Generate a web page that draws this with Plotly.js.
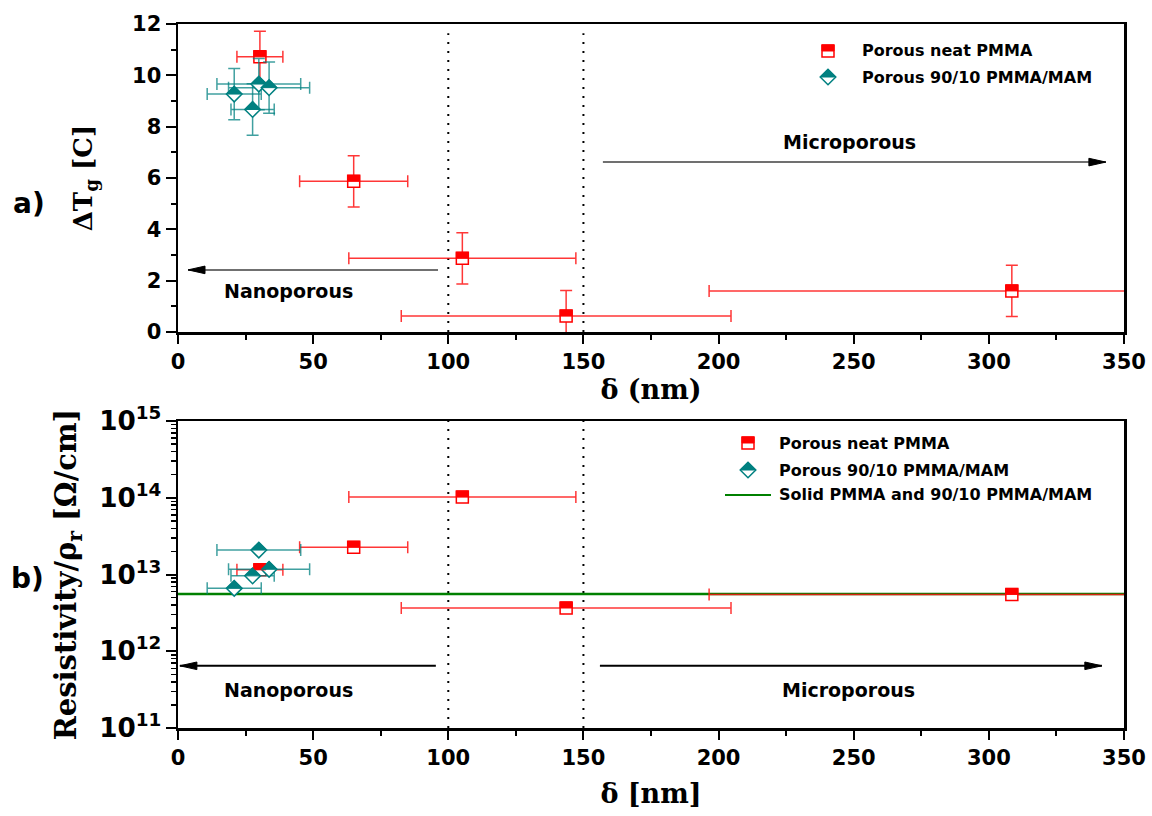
<!DOCTYPE html>
<html><head><meta charset="utf-8">
<script src="https://cdn.plot.ly/plotly-3.0.1.min.js"></script>
<style>html,body{margin:0;padding:0;background:#fff}</style>
</head><body><div id="chart" style="width:1152px;height:816px"></div>
<script>
// ---- data ----
const neatX = [30.3, 65, 105.2, 143.6, 308.5];
const neatXErr = [8.5, 20, 42, 61, 112];
const neatTg = [10.72, 5.87, 2.87, 0.62, 1.6];
const neatTgErr = [1, 1, 1, 1, 1];
const neatRho = [1.15e13, 2.26e13, 1.02e14, 3.66e12, 5.5e12];

const mamX = [29.9, 33.7, 20.8, 27.6];
const mamXErr = [15.5, 15, 10, 8];
const mamTg = [9.66, 9.52, 9.27, 8.67];
const mamTgErr = [1, 1, 1, 1];
const mamRho = [2.08e13, 1.17e13, 6.6e12, 9.6e12];

const solidRho = 5.57e12;
const boundaries = [100, 150];
const xRange = [0, 350];

const seriesNames = ['Porous neat PMMA', 'Porous 90/10 PMMA/MAM', 'Solid PMMA and 90/10 PMMA/MAM'];
const regionNames = ['Nanoporous', 'Microporous'];

// ---- style / geometry ----
const RED = '#ff0000', RED_ERR = 'rgba(255,20,20,0.85)';
const TEAL = '#008080', TEAL_ERR = 'rgba(0,128,128,0.75)';
const GREEN = '#008000';
const PL = 178, PR = 1124, PT = 24, PB = 728, W = 1152, H = 816;
const px2x = p => (p - PL) / (PR - PL);
const px2y = p => (PB - p) / (PB - PT);
const SANS = '"DejaVu Sans", Verdana, sans-serif';
const TICKFONT = {family: SANS, size: 21, color: '#000', weight: 'bold'};
const LABFONT = {family: SANS, size: 16, color: '#000', weight: 'bold'};
const SERIF = '"DejaVu Serif", serif';
const XTITLEFONT = {family: SERIF, size: 27, color: '#000', weight: 'bold'};

const SQ = 6, DM = 7.8;
const sqFull = `M${-SQ},${-SQ} L${SQ},${-SQ} L${SQ},${SQ} L${-SQ},${SQ} Z`;
const sqHalf = `M${-SQ},0 L${SQ},0 L${SQ},${SQ} L${-SQ},${SQ} Z`;
const dmFull = `M${-DM},0 L0,${-DM} L${DM},0 L0,${DM} Z`;
const dmHalf = `M${-DM},0 L${DM},0 L0,${DM} Z`;

function errBar(arr, c) { return {type: 'data', array: arr, color: c, thickness: 1.5, width: 6}; }

const traces = [
  {x: neatX, y: neatTg, xaxis: 'x', yaxis: 'y', mode: 'markers', name: seriesNames[0], showlegend: false,
   marker: {symbol: 'square', size: 12, color: '#fff', line: {color: RED, width: 1.5}},
   error_x: errBar(neatXErr, RED_ERR), error_y: errBar(neatTgErr, RED_ERR)},
  {x: mamX, y: mamTg, xaxis: 'x', yaxis: 'y', mode: 'markers', name: seriesNames[1], showlegend: false,
   marker: {symbol: 'diamond', size: 12, color: '#fff', line: {color: TEAL, width: 1.5}},
   error_x: errBar(mamXErr, TEAL_ERR), error_y: errBar(mamTgErr, TEAL_ERR)},
  {x: xRange, y: [solidRho, solidRho], xaxis: 'x2', yaxis: 'y2', mode: 'lines', name: seriesNames[2], showlegend: false,
   line: {color: GREEN, width: 2.5}},
  {x: neatX, y: neatRho, xaxis: 'x2', yaxis: 'y2', mode: 'markers', name: seriesNames[0], showlegend: false,
   marker: {symbol: 'square', size: 12, color: '#fff', line: {color: RED, width: 1.5}},
   error_x: errBar(neatXErr, RED_ERR)},
  {x: mamX, y: mamRho, xaxis: 'x2', yaxis: 'y2', mode: 'markers', name: seriesNames[1], showlegend: false,
   marker: {symbol: 'diamond', size: 12, color: '#fff', line: {color: TEAL, width: 1.5}},
   error_x: errBar(mamXErr, TEAL_ERR)}
];

const shapes = [];
const annotations = [];

// half-filled markers anchored at data points
function halfFill(xs, ys, xa, ya, path, color) {
  xs.forEach((xv, i) => shapes.push({type: 'path', xref: xa, yref: ya, xsizemode: 'pixel', ysizemode: 'pixel',
    xanchor: xv, yanchor: ys[i], path: path, fillcolor: color, line: {color: color, width: 1}, layer: 'above'}));
}
halfFill(neatX, neatTg, 'x', 'y', sqHalf, RED);
halfFill(mamX, mamTg, 'x', 'y', dmHalf, TEAL);
halfFill(neatX, neatRho, 'x2', 'y2', sqHalf, RED);
halfFill(mamX, mamRho, 'x2', 'y2', dmHalf, TEAL);

// region boundaries (dotted)
boundaries.forEach(b => {
  shapes.push({type: 'line', xref: 'x', yref: 'y domain', x0: b, x1: b, y0: 0, y1: 0.97, line: {color: '#000', width: 2, dash: '2px,7px'}, layer: 'below'});
  shapes.push({type: 'line', xref: 'x2', yref: 'y2 domain', x0: b, x1: b, y0: 0, y1: 1, line: {color: '#000', width: 2, dash: '2px,7px'}, layer: 'below'});
});

// arrows
function arrow(xa, ya, xFrom, xTip, yv, color) {
  shapes.push({type: 'line', xref: xa, yref: ya, x0: xFrom, x1: xTip, y0: yv, y1: yv, line: {color: color, width: 2}});
  const s = xTip > xFrom ? 1 : -1;
  shapes.push({type: 'path', xref: xa, yref: ya, xsizemode: 'pixel', ysizemode: 'pixel', xanchor: xTip, yanchor: yv,
    path: `M0,0 L${-17 * s},3.8 L${-17 * s},-3.8 Z`, fillcolor: '#000', line: {color: '#000', width: 1}});
}
arrow('x', 'y', 96.2, 3.7, 2.42, '#707070');
arrow('x', 'y', 157.2, 343.3, 6.62, '#707070');
arrow('x2', 'y2', 95.4, 0.7, 6.46e11, '#000');
arrow('x2', 'y2', 156.1, 341.8, 6.46e11, '#000');

function label(xa, ya, xv, yv, text) {
  annotations.push({xref: xa, yref: ya, x: xv, y: yv, xanchor: 'center', yanchor: 'middle', text: text, showarrow: false, font: {family: SANS, size: 19, color: '#000', weight: 'bold'}});
}
label('x', 'y', 41, 1.6, regionNames[0]);
label('x', 'y', 248.6, 7.4, regionNames[1]);
label('x2', 'y2', 41, 11.5, regionNames[0]);
label('x2', 'y2', 248.2, 11.5, regionNames[1]);

// panel letters
annotations.push({xref: 'paper', yref: 'paper', x: px2x(29), y: px2y(203), xanchor: 'center', yanchor: 'middle', text: 'a)', showarrow: false, font: {family: SANS, size: 28, color: '#000', weight: 'bold'}});
annotations.push({xref: 'paper', yref: 'paper', x: px2x(27), y: px2y(578), xanchor: 'center', yanchor: 'middle', text: 'b)', showarrow: false, font: {family: SANS, size: 28, color: '#000', weight: 'bold'}});

// custom legends
function legendItem(mx, my, tx, kind, text) {
  const base = {type: 'path', xref: 'paper', yref: 'paper', xsizemode: 'pixel', ysizemode: 'pixel', xanchor: px2x(mx), yanchor: px2y(my), layer: 'above'};
  if (kind === 'square') {
    shapes.push(Object.assign({}, base, {path: sqFull, fillcolor: '#fff', line: {color: RED, width: 1.5}}));
    shapes.push(Object.assign({}, base, {path: sqHalf, fillcolor: RED, line: {color: RED, width: 1}}));
  } else if (kind === 'diamond') {
    shapes.push(Object.assign({}, base, {path: dmFull, fillcolor: '#fff', line: {color: TEAL, width: 1.5}}));
    shapes.push(Object.assign({}, base, {path: dmHalf, fillcolor: TEAL, line: {color: TEAL, width: 1}}));
  } else {
    shapes.push({type: 'line', xref: 'paper', yref: 'paper', x0: px2x(mx - 23), x1: px2x(mx + 23), y0: px2y(my), y1: px2y(my), line: {color: GREEN, width: 2}});
  }
  annotations.push({xref: 'paper', yref: 'paper', x: px2x(tx), y: px2y(my), xanchor: 'left', yanchor: 'middle', text: text, showarrow: false, font: LABFONT});
}
legendItem(828, 51, 860, 'square', seriesNames[0]);
legendItem(828, 77, 860, 'diamond', seriesNames[1]);
legendItem(748, 443, 777, 'square', seriesNames[0]);
legendItem(748, 470, 777, 'diamond', seriesNames[1]);
legendItem(748, 495, 777, 'line', seriesNames[2]);

const xBase = {range: xRange, dtick: 50, tick0: 0, ticks: 'outside', ticklen: 9, tickwidth: 2, tickcolor: '#000',
  showline: true, linewidth: 2.5, linecolor: '#000', mirror: true, showgrid: false, zeroline: false,
  minor: {dtick: 25, ticks: 'outside', ticklen: 5, tickwidth: 2, tickcolor: '#000'}, tickfont: TICKFONT};

const layout = {
  width: W, height: H, paper_bgcolor: '#fff', plot_bgcolor: '#fff', showlegend: false,
  margin: {l: PL, r: W - PR, t: PT, b: H - PB},
  xaxis: Object.assign({}, xBase, {domain: [0, 1], anchor: 'y', title: {text: 'δ (nm)', font: XTITLEFONT, standoff: 2}}),
  yaxis: {domain: [px2y(332), 1], anchor: 'x', range: [0, 12], dtick: 2, ticks: 'outside', ticklen: 10, tickwidth: 2, tickcolor: '#000',
    showline: true, linewidth: 2.5, linecolor: '#000', mirror: true, showgrid: false, zeroline: false,
    minor: {dtick: 1, ticks: 'outside', ticklen: 5, tickwidth: 2, tickcolor: '#000'}, tickfont: TICKFONT,
    title: {text: 'ΔT<sub>g</sub> [C]', font: {family: SERIF, size: 26, color: '#000', weight: 'bold'}, standoff: 32}},
  xaxis2: Object.assign({}, xBase, {domain: [0, 1], anchor: 'y2', title: {text: 'δ [nm]', font: XTITLEFONT, standoff: 16}}),
  yaxis2: {domain: [0, px2y(421)], anchor: 'x2', type: 'log', range: [11, 15], dtick: 1, exponentformat: 'power',
    ticks: 'outside', ticklen: 10, tickwidth: 2, tickcolor: '#000',
    showline: true, linewidth: 2.5, linecolor: '#000', mirror: true, showgrid: false, zeroline: false,
    minor: {ticks: 'outside', ticklen: 5, tickwidth: 1.5, tickcolor: '#000'}, tickfont: TICKFONT,
    title: {text: 'Resistivity/ρ<sub>r</sub> [Ω/cm]', font: {family: SERIF, size: 29, color: '#000', weight: 'bold'}, standoff: 14}},
  shapes: shapes, annotations: annotations
};

Plotly.newPlot('chart', traces, layout, {staticPlot: true, displayModeBar: false});
</script></body></html>
